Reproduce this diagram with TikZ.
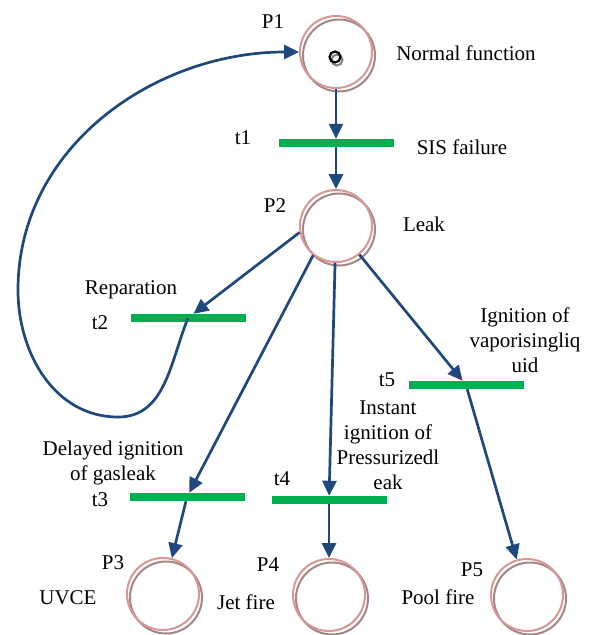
\documentclass[tikz,border=0pt]{standalone}
\usepackage{fontspec}
\setmainfont{Liberation Serif}
\usetikzlibrary{arrows.meta,shadows}
\definecolor{placepink}{HTML}{D99694}
\definecolor{placegray}{HTML}{A58686}
\definecolor{arcblue}{HTML}{1F497D}
\definecolor{barfill}{HTML}{00B050}

\begin{document}
\begin{tikzpicture}[x=1pt,y=-1pt,font=\fontsize{21}{25}\selectfont,
  pl/.style={draw=placepink,circle,line width=2pt,minimum size=72pt,inner sep=0pt,
    copy shadow={shadow xshift=3pt,shadow yshift=-3.5pt,draw=placegray,fill=none,line width=2pt}},
  tr/.style={fill=barfill,minimum width=115pt,minimum height=8pt,inner sep=0pt},
  arc/.style={arcblue,line width=2.7pt,-{Triangle[length=15pt,width=14pt]}},
  lbl/.style={align=center,inner sep=0pt}]
\useasboundingbox (0,0) rectangle (590,635);
% places
\node[pl] (P1) at (336,52) {};
\node[pl] (P2) at (336,226) {};
\node[pl] (P3) at (163,594) {};
\node[pl] (P4) at (329,595) {};
\node[pl] (P5) at (527,595) {};
\node[circle,draw=black,line width=2.2pt,minimum size=11pt,inner sep=0pt,
  copy shadow={shadow xshift=2pt,shadow yshift=-3pt,draw=gray,fill=none,line width=2pt}] (tok) at (335,57) {};
% transitions
\node[tr] (t1) at (336,143) {};
\node[tr] (t2) at (188,318) {};
\node[tr] (t3) at (187,497) {};
\node[tr] (t4) at (329,500) {};
\node[tr] (t5) at (466,385) {};
% labels
\foreach \x/\y/\lab in {273/22/P1,243/138/t1,275/206/P2,100/323/t2,100/500/t3,282/479/t4,
  387/380/t5,113/563/P3,268/565/P4,472/570/P5}
  \node[lbl] at (\x,\y) {\lab};
\node[lbl] (nf) at (466,53) {Normal function};
\node[lbl] (sf) at (462,147) {SIS failure};
\node[lbl] (lk) at (424,224) {Leak};
\node[lbl] (rp) at (131,290) {Reparation};
\node[lbl] (dg) at (113,463) {Delayed ignition\\of gasleak};
\node[lbl] (ip) at (388,445) {Instant\\ignition of\\Pressurizedl\\eak};
\node[lbl] (iv) at (525,340) {Ignition of\\vaporisingliq\\uid};
\node[lbl] (uv) at (68,598) {UVCE};
\node[lbl] (jf) at (246,602) {Jet fire};
\node[lbl] (pf) at (438,597) {Pool fire};
% arcs
\draw[arc] (P1) -- (t1);
\draw[arc] (t1) -- (P2);
\draw[arc] (P2.190) -- (t2);
\draw[arc] (P2.232) -- (t3);
\draw[arc] (P2) -- (t4);
\draw[arc] (P2) -- (t5);
\draw[arc] (t3) -- (P3);
\draw[arc] (t4) -- (P4);
\draw[arc] (t5) -- (P5);
\draw[arc] (t2.center) to[out=-112,in=0] (118,417) to[out=180,in=-90] (18,290)
  to[out=90,in=180] (P1.west);
\end{tikzpicture}
\end{document}
